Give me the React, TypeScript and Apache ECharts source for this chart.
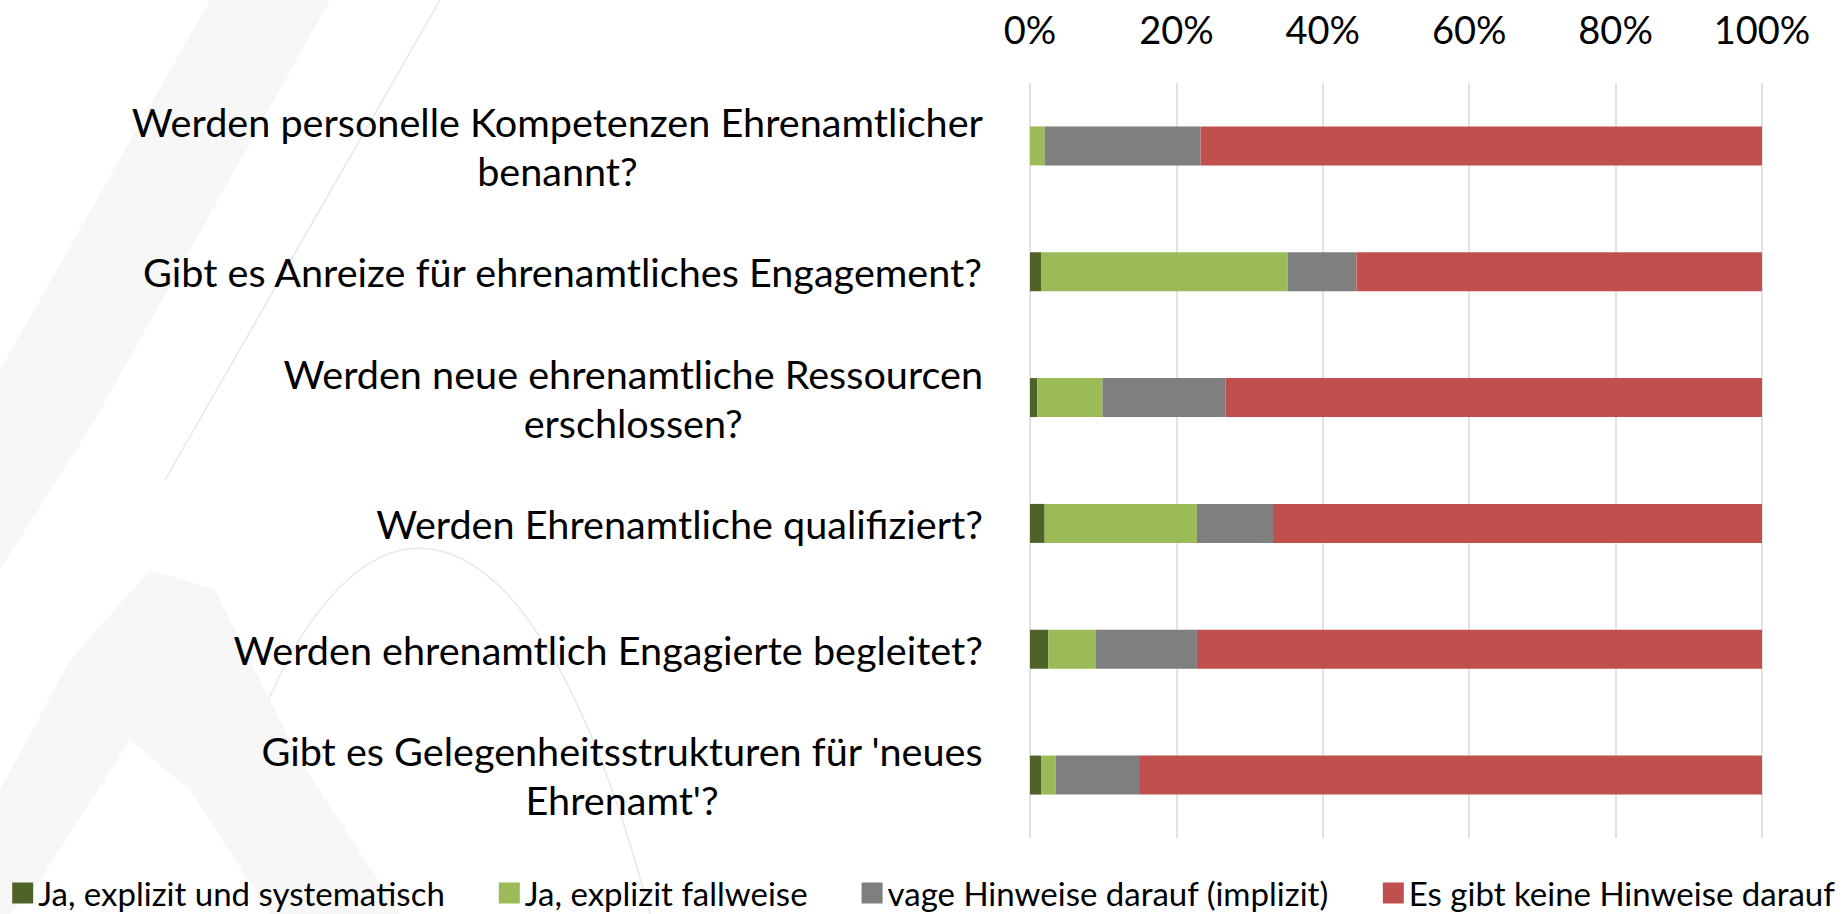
import React, { useEffect, useRef } from "react";
import * as echarts from "echarts";

const categories: string[] = [
  "Werden personelle Kompetenzen Ehrenamtlicher\nbenannt?",
  "Gibt es Anreize für ehrenamtliches Engagement?",
  "Werden neue ehrenamtliche Ressourcen\nerschlossen?",
  "Werden Ehrenamtliche qualifiziert?",
  "Werden ehrenamtlich Engagierte begleitet?",
  "Gibt es Gelegenheitsstrukturen für 'neues\nEhrenamt'?",
];

const seriesNames: string[] = [
  "Ja, explizit und systematisch",
  "Ja, explizit fallweise",
  "vage Hinweise darauf (implizit)",
  "Es gibt keine Hinweise darauf",
];

const systematisch: number[] = [0, 1.5, 1.0, 2.0, 2.5, 1.5];
const fallweise: number[] = [2.0, 33.7, 8.9, 20.8, 6.5, 2.0];
const vage: number[] = [21.3, 9.4, 16.8, 10.4, 13.8, 11.4];
const keine: number[] = [76.7, 55.4, 73.3, 66.8, 77.2, 85.1];

const colors: string[] = ["#4f6228", "#9bbb59", "#7f7f7f", "#c0504d"];

const FONT = "Lato, 'Open Sans', sans-serif";

export default function App() {
  const ref = useRef<HTMLDivElement>(null);

  useEffect(() => {
    if (!ref.current) return;
    const chart = echarts.init(ref.current, undefined, { renderer: "svg" });
    const values = [systematisch, fallweise, vage, keine];

    const option: any = {
      animation: false,
      backgroundColor: "#ffffff",
      textStyle: { fontFamily: FONT },
      graphic: [
        {
          type: "polygon",
          z: -10,
          silent: true,
          shape: { points: [[210, 0], [330, 0], [95, 420], [0, 570], [0, 370]] },
          style: { fill: "#f7f7f7" },
        },
        {
          type: "line",
          z: -10,
          silent: true,
          shape: { x1: 440, y1: 0, x2: 165, y2: 480 },
          style: { stroke: "#e6e6e6", lineWidth: 1.5 },
        },
        {
          type: "bezierCurve",
          z: -10,
          silent: true,
          shape: { x1: 260, y1: 720, cpx1: 360, cpy1: 470, cpx2: 530, cpy2: 460, x2: 650, y2: 914 },
          style: { stroke: "#e8e8e8", lineWidth: 1.5, fill: null },
        },
        {
          type: "polygon",
          z: -10,
          silent: true,
          shape: {
            points: [
              [0, 790], [70, 660], [150, 570], [215, 590], [300, 760], [400, 914],
              [270, 914], [190, 790], [130, 740], [40, 880], [10, 914], [0, 914],
            ],
          },
          style: { fill: "#f7f7f7" },
        },
      ],
      grid: { left: 1030, right: 85, top: 83, bottom: 76 },
      legend: {
        top: 875,
        left: "center",
        padding: 0,
        itemWidth: 21,
        itemHeight: 21,
        itemGap: 54,
        icon: "rect",
        data: seriesNames,
        textStyle: { fontSize: 33, fontFamily: FONT, color: "#000", lineHeight: 36 },
      },
      xAxis: {
        type: "value",
        position: "top",
        min: 0,
        max: 100,
        interval: 20,
        axisLine: { show: false },
        axisTick: { show: false },
        splitLine: { show: true, lineStyle: { color: "#d9d9d9", width: 1.5 } },
        axisLabel: {
          formatter: "{value}%",
          fontSize: 38,
          fontFamily: FONT,
          color: "#000",
          margin: 35,
        },
      },
      yAxis: {
        type: "category",
        inverse: true,
        data: categories,
        axisLine: { show: false },
        axisTick: { show: false },
        splitLine: { show: false },
        axisLabel: {
          margin: 47,
          color: "#000",
          fontSize: 39.6,
          fontFamily: FONT,
          lineHeight: 49,
          formatter: (v: string) =>
            v
              .split("\n")
              .map((l) => `{c|${l}}`)
              .join("\n"),
          rich: {
            c: { align: "center", fontSize: 39.6, lineHeight: 49, fontFamily: FONT, color: "#000" },
          },
        },
      },
      series: seriesNames.map((name, i) => ({
        name,
        type: "bar",
        stack: "total",
        barWidth: 39,
        data: values[i],
        itemStyle: { color: colors[i] },
        emphasis: { disabled: true },
      })),
    };

    chart.setOption(option);
    return () => chart.dispose();
  }, []);

  return (
    <div
      ref={ref}
      style={{ position: "fixed", left: 0, top: 0, width: 1847, height: 914, background: "#fff" }}
    />
  );
}
